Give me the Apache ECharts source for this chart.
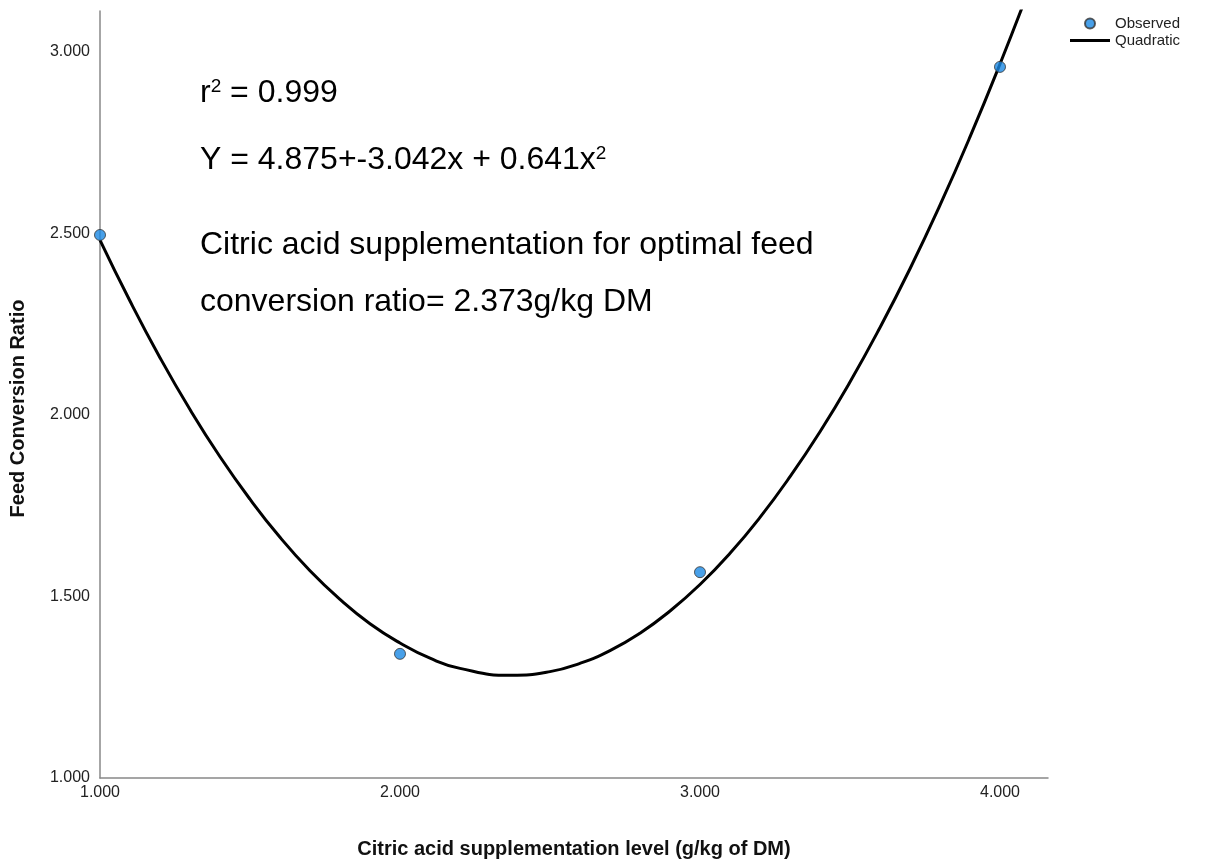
<!DOCTYPE html>
<html>
<head>
<meta charset="utf-8">
<script src="https://cdn.jsdelivr.net/npm/echarts@6/dist/echarts.min.js"></script>
<style>
html,body{margin:0;padding:0;background:#fff;}
#chart{width:1220px;height:867px;}
</style>
</head>
<body>
<div id="chart"></div>
<script>
// Observed data points (x = citric acid level, y = feed conversion ratio)
var observedX = [1, 2, 3, 4];
var observedY = [2.496, 1.342, 1.567, 2.959];

// Quadratic fit curve
var curveX = [1.0,1.1,1.2,1.3,1.4,1.5,1.6,1.7,1.8,1.9,2.0,2.1,2.2,2.37,2.5,2.6,2.7,2.8,2.9,3.0,3.1,3.2,3.3,3.4,3.5,3.6,3.7,3.8,3.9,4.0,4.1];
var curveY = [2.482,2.314,2.158,2.015,1.885,1.768,1.663,1.571,1.492,1.425,1.372,1.330,1.302,1.283,1.293,1.316,1.351,1.399,1.460,1.533,1.619,1.718,1.830,1.954,2.091,2.241,2.403,2.578,2.766,2.967,3.180];

var seriesNames = ['Observed', 'Quadratic'];
var xTitle = 'Citric acid supplementation level (g/kg of DM)';
var yTitle = 'Feed Conversion Ratio';

var obsData = observedX.map(function (x, i) { return [x, observedY[i]]; });
var curveData = curveX.map(function (x, i) { return [x, curveY[i]]; });

var FONT = '"Liberation Sans", Arial, sans-serif';
var chart = echarts.init(document.getElementById('chart'));
chart.setOption({
  backgroundColor: '#ffffff',
  animation: false,
  grid: { left: 100, right: 172, top: 11, bottom: 89 },
  xAxis: {
    type: 'value', min: 1, max: 4.16, interval: 1,
    name: xTitle, nameLocation: 'middle', nameGap: 61,
    nameTextStyle: { fontFamily: FONT, fontSize: 20, fontWeight: 'bold', color: '#111' },
    axisLine: { show: true, lineStyle: { color: '#888', width: 1.5 } },
    axisTick: { show: false },
    splitLine: { show: false },
    axisLabel: {
      fontFamily: FONT, fontSize: 16, color: '#222', margin: 7,
      formatter: function (v) { return Math.abs(v - Math.round(v)) < 1e-9 ? v.toFixed(3) : ''; }
    }
  },
  yAxis: {
    type: 'value', min: 1, max: 3.113, interval: 0.5,
    name: yTitle, nameLocation: 'middle', nameGap: 72, nameRotate: 90,
    nameTextStyle: { fontFamily: FONT, fontSize: 20, fontWeight: 'bold', color: '#111', padding: [0, 28, 0, 0] },
    axisLine: { show: true, lineStyle: { color: '#888', width: 1.5 } },
    axisTick: { show: false },
    splitLine: { show: false },
    axisLabel: {
      fontFamily: FONT, fontSize: 16, color: '#222', margin: 10,
      formatter: function (v) { return Math.abs(v * 2 - Math.round(v * 2)) < 1e-9 ? v.toFixed(3) : ''; }
    }
  },
  legend: {
    orient: 'vertical', left: 1065, top: 10, padding: 5,
    itemWidth: 40, itemHeight: 10, itemGap: 0, itemTextGap: 5,
    textStyle: { fontFamily: FONT, fontSize: 15, lineHeight: 17, color: '#222' },
    data: [
      { name: seriesNames[0], icon: 'circle' },
      { name: seriesNames[1], icon: 'path://M0,0L40,0L40,3L0,3Z' }
    ]
  },
  series: [
    {
      name: seriesNames[1], type: 'line', data: curveData, symbol: 'none',
      smooth: true,
      clip: true, z: 2,
      lineStyle: { color: '#000', width: 3, join: 'round' }, itemStyle: { color: '#000' }
    },
    {
      name: seriesNames[0], type: 'scatter', data: obsData, symbolSize: 11, z: 3,
      itemStyle: { color: '#1a88e3', borderColor: '#333', borderWidth: 1 }
    }
  ],
  graphic: [
    { type: 'text', x: 200, y: 93, style: {
      text: '{t|r}{s|2}{t| = 0.999}', verticalAlign: 'middle', rich: {
        t: { fontFamily: FONT, fontSize: 32, fill: '#000', verticalAlign: 'bottom' },
        s: { fontFamily: FONT, fontSize: 19, fill: '#000', verticalAlign: 'top' }
      } } },
    { type: 'text', x: 200, y: 160, style: {
      text: '{t|Y = 4.875+-3.042x + 0.641x}{s|2}', verticalAlign: 'middle', rich: {
        t: { fontFamily: FONT, fontSize: 32, fill: '#000', verticalAlign: 'bottom' },
        s: { fontFamily: FONT, fontSize: 19, fill: '#000', verticalAlign: 'top' }
      } } },
    { type: 'text', x: 200, y: 245, style: {
      text: 'Citric acid supplementation for optimal feed', verticalAlign: 'middle', fontFamily: FONT, fontSize: 32, fill: '#000' } },
    { type: 'text', x: 200, y: 302, style: {
      text: 'conversion ratio= 2.373g/kg DM', verticalAlign: 'middle', fontFamily: FONT, fontSize: 32, fill: '#000' } }
  ]
});
</script>
</body>
</html>
